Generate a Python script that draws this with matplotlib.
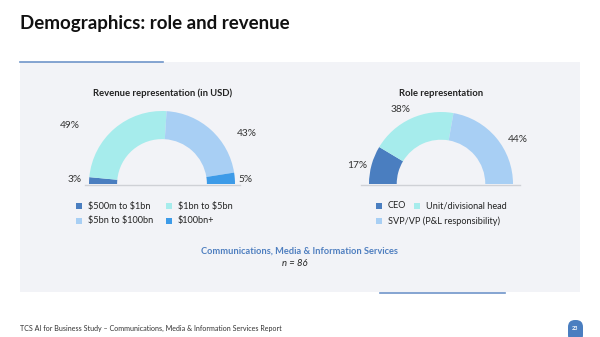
import matplotlib.pyplot as plt
from matplotlib.patches import Rectangle, FancyBboxPatch

plt.rcParams['font.family'] = ['Lato', 'DejaVu Sans']
plt.rcParams['text.parse_math'] = False

# data
rev_labels = ['$500m to $1bn', '$1bn to $5bn', '$5bn to $100bn', '$100bn+']
rev_values = [3, 49, 43, 5]
rev_colors = ['#4a7ec0', '#a6ecec', '#a8cff4', '#3d9be8']

role_labels = ['CEO', 'Unit/divisional head', 'SVP/VP (P&L responsibility)']
role_values = [17, 38, 44]
role_colors = ['#4a7ec0', '#a6ecec', '#a8cff4']

W, H = 600, 337
fig = plt.figure(figsize=(6, 3.37), dpi=100)
fig.patch.set_facecolor('white')

# overlay axes in pixel coords
bg = fig.add_axes([0, 0, 1, 1])
bg.set_xlim(0, W)
bg.set_ylim(H, 0)
bg.axis('off')

bg.add_patch(Rectangle((20, 62), 560, 230, facecolor='#f2f3f7', edgecolor='none'))
bg.plot([20, 163], [61.5, 61.5], color='#6f95c9', lw=1.2)
bg.plot([380, 505], [292.5, 292.5], color='#6f95c9', lw=1.2)

bg.text(20, 23, 'Demographics: role and revenue', fontsize=13.5, fontweight='bold',
        color='#111111', va='center', ha='left')

bg.text(163, 93, 'Revenue representation (in USD)', fontsize=6.8, fontweight='bold',
        color='#222222', ha='center', va='center')
bg.text(441, 93, 'Role representation', fontsize=6.8, fontweight='bold',
        color='#222222', ha='center', va='center')

# baselines
bg.plot([85, 240], [184.5, 184.5], color='#cfd1d6', lw=1)
bg.plot([361, 520], [184.5, 184.5], color='#cfd1d6', lw=1)


def half_donut(cx, cy, r, values, colors):
    ax = fig.add_axes([(cx - r) / W, (H - cy - r) / H, 2 * r / W, 2 * r / H])
    ax.pie(values + [sum(values)], colors=colors + ['none'], startangle=180,
           counterclock=False, wedgeprops=dict(width=0.385, linewidth=0))
    ax.set_xlim(-1, 1)
    ax.set_ylim(-1, 1)
    ax.axis('off')
    return ax


half_donut(162, 184, 73, rev_values, rev_colors)
half_donut(441, 184, 72, role_values, role_colors)

# percentage labels
rev_pos = [(75, 179), (70, 126), (247, 134), (246, 179)]
role_pos = [(357, 166), (401, 110), (518, 139)]
for v, (x, y) in zip(rev_values, rev_pos):
    bg.text(x, y, f'{v}%', fontsize=7.3, color='#333333', ha='center', va='center')
for v, (x, y) in zip(role_values, role_pos):
    bg.text(x, y, f'{v}%', fontsize=7.3, color='#333333', ha='center', va='center')

# legends
def legend_item(x, y, color, label):
    bg.add_patch(Rectangle((x - 3, y - 3), 6, 6, facecolor=color, edgecolor='none'))
    bg.text(x + 9, y, label, fontsize=6.6, color='#222222', ha='left', va='center')


rev_leg = [(79, 206), (169, 206), (79, 221), (169, 221)]
for (x, y), c, l in zip(rev_leg, rev_colors, rev_labels):
    legend_item(x, y, c, l)
role_leg = [(379, 206), (417, 206), (379, 221)]
for (x, y), c, l in zip(role_leg, role_colors, role_labels):
    legend_item(x, y, c, l)

bg.text(299, 251, 'Communications, Media & Information Services', fontsize=6.7,
        fontweight='bold', color='#4f7fc0', ha='center', va='center')
bg.text(295, 264, 'n = 86', fontsize=6.8, style='italic', color='#222222',
        ha='center', va='center')

bg.text(20, 328, 'TCS AI for Business Study \u2013 Communications, Media & Information Services Report',
        fontsize=5.1, color='#333333', ha='left', va='center')

bg.add_patch(FancyBboxPatch((568, 320), 15, 22, boxstyle='round,pad=0,rounding_size=7',
                            facecolor='#4a7ec0', edgecolor='none'))
bg.text(575.5, 328, '23', fontsize=4, color='white', ha='center', va='center',
        fontweight='bold')

fig.savefig('out.png', dpi=100)
